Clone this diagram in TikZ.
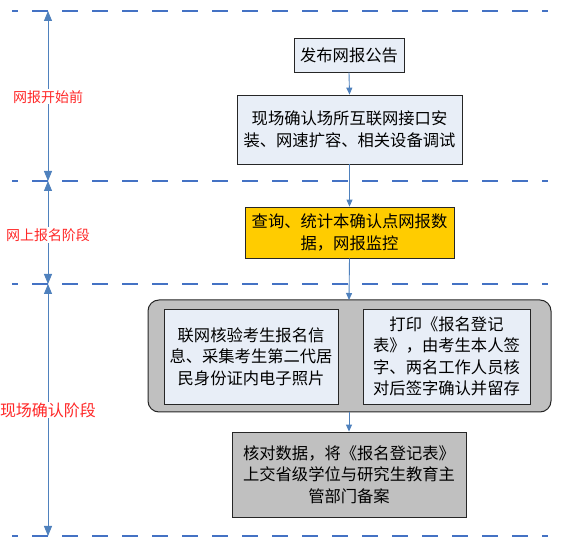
\documentclass[tikz,border=0pt]{standalone}
\usepackage{fontspec}
\newfontfamily\cjk{Noto Sans CJK SC}
\usetikzlibrary{arrows.meta}
\definecolor{dashblue}{RGB}{68,114,196}
\definecolor{arrblue}{RGB}{79,129,189}
\definecolor{boxfill}{RGB}{232,238,247}
\definecolor{goldfill}{RGB}{255,204,0}
\definecolor{grayfill}{RGB}{192,192,192}
\definecolor{lblred}{RGB}{255,40,40}
\tikzset{
  phase/.style={draw=dashblue, line width=2.4pt, dash pattern=on 16pt off 14pt, dash phase=10pt},
  span/.style={draw=arrblue, line width=0.9pt, {Triangle[length=10pt,width=8pt]}-{Triangle[length=10pt,width=8pt]}},
  flow/.style={draw=arrblue, line width=0.9pt, -{Triangle[length=7pt,width=6pt]}},
  lbl/.style={text=lblred, fill=white, font=\cjk\fontsize{14pt}{16pt}\selectfont, inner sep=1pt},
  stepbox/.style={draw=black!85, line width=0.8pt, fill=boxfill, align=center, inner sep=0pt,
    font=\cjk\fontsize{16.3pt}{21.5pt}\selectfont},
}
\begin{document}
\begin{tikzpicture}[x=1pt,y=-1pt]
\useasboundingbox (0,0) rectangle (582,545);
% dashed phase lines
\foreach \yy in {11,181,284,536} \draw[phase] (12,\yy) -- (548,\yy);
% span markers
\coordinate (a0) at (48,11);
\coordinate (a1) at (48,181);
\coordinate (a2) at (48,284);
\coordinate (a3) at (48,536);
\draw[span] (a0) -- (a1);
\draw[span] (a1) -- (a2);
\draw[span] (a2) -- (a3);
\node[lbl] (l1) at (48,97) {网报开始前};
\node[lbl] (l2) at (48,235) {网上报名阶段};
\node[lbl, font=\cjk\fontsize{16pt}{18pt}\selectfont] (l3) at (48,410) {现场确认阶段};
% boxes
\node[stepbox, minimum width=110pt, minimum height=34pt] (b1) at (349,55) {发布网报公告};
\node[stepbox, minimum width=225pt, minimum height=69pt] (b2) at (349.5,129.5) {现场确认场所互联网接口安\\装、网速扩容、相关设备调试};
\node[stepbox, fill=goldfill, minimum width=209pt, minimum height=51pt] (b3) at (349.5,232.5) {查询、统计本确认点网报数\\据，网报监控};
\draw[draw=black!85, line width=1pt, fill=grayfill, rounded corners=11pt] (148,300) rectangle (551,412);
\coordinate (ct) at (349,300);
\coordinate (cb) at (349,412);
\node[stepbox, minimum width=174pt, minimum height=95pt] (b5) at (251,356.5) {联网核验考生报名信\\息、采集考生第二代居\\民身份证内电子照片};
\node[stepbox, minimum width=167pt, minimum height=95pt] (b6) at (446.5,356.5) {打印《报名登记\\表》，由考生本人签\\字、两名工作人员核\\对后签字确认并留存};
\node[stepbox, fill=grayfill, minimum width=234pt, minimum height=85pt] (b7) at (349,474.5) {核对数据，将《报名登记表》\\上交省级学位与研究生教育主\\管部门备案};
% flow arrows
\draw[flow] (b1.south) -- (b2.north);
\draw[flow] (b2.south) -- (b3.north);
\draw[flow] (b3.south) -- (ct);
\draw[flow] (cb) -- (b7.north);
\end{tikzpicture}
\end{document}
